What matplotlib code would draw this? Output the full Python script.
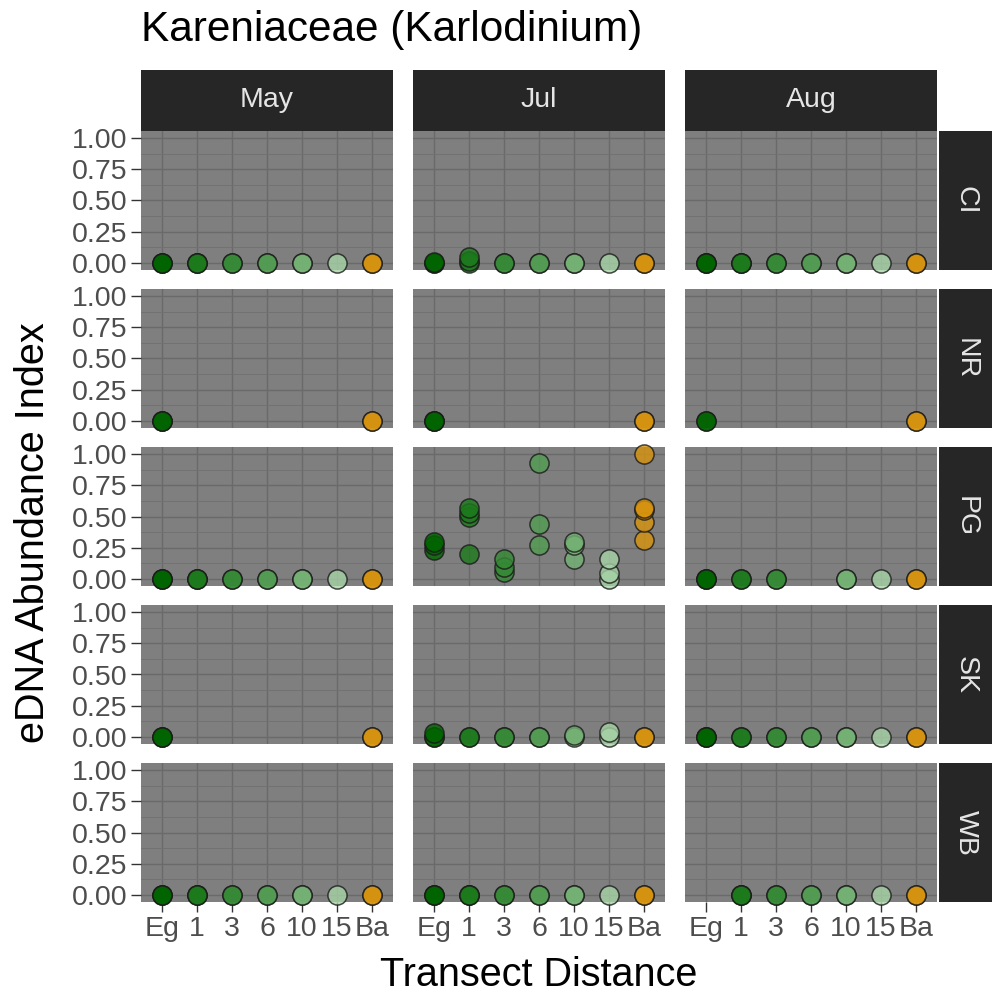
import matplotlib
matplotlib.use("Agg")
import matplotlib.pyplot as plt

plt.rcParams['font.family'] = ['Liberation Sans', 'DejaVu Sans']

# transect stations along x, sampling months across, sites down
distances = ["Eg", "1", "3", "6", "10", "15", "Ba"]
months = ["May", "Jul", "Aug"]
sites = ["CI", "NR", "PG", "SK", "WB"]
fills = ["#006400", "#1c7a1c", "#348a34", "#529c52", "#74b274", "#a6d2a6", "#d8940c"]

# replicate abundance values per station (Eg .. Ba)
ci_may = [[0, 0, 0], [0, 0, 0], [0, 0], [0, 0], [0, 0], [0], [0, 0]]
ci_jul = [[0, 0, 0.01], [0, 0.02, 0.05], [0, 0], [0, 0], [0, 0], [0], [0, 0]]
ci_aug = [[0, 0, 0], [0, 0, 0], [0, 0], [0, 0], [0, 0], [0], [0, 0]]
nr_may = [[0, 0, 0], [], [], [], [], [], [0, 0]]
nr_jul = [[0, 0, 0], [], [], [], [], [], [0, 0]]
nr_aug = [[0, 0], [], [], [], [], [], [0, 0]]
pg_may = [[0, 0, 0], [0, 0, 0], [0, 0], [0, 0], [0, 0], [0], [0, 0]]
pg_jul = [[0.23, 0.27, 0.30], [0.20, 0.50, 0.53, 0.57], [0.06, 0.10, 0.16],
          [0.27, 0.44, 0.93], [0.16, 0.27, 0.30], [0.0, 0.05, 0.16],
          [0.31, 0.46, 0.55, 0.57, 1.0]]
pg_aug = [[0, 0, 0], [0, 0], [0, 0], [], [0, 0], [0], [0, 0]]
sk_may = [[0, 0, 0], [], [], [], [], [], [0, 0]]
sk_jul = [[0, 0, 0.03], [0, 0], [0, 0], [0, 0], [0, 0.02], [0, 0.04], [0, 0]]
sk_aug = [[0, 0, 0], [0, 0], [0, 0], [0, 0], [0, 0], [0], [0, 0]]
wb_may = [[0, 0, 0], [0, 0, 0], [0, 0], [0, 0], [0, 0], [0], [0, 0]]
wb_jul = [[0, 0, 0], [0, 0, 0], [0, 0], [0, 0], [0, 0], [0], [0, 0]]
wb_aug = [[], [0, 0, 0], [0, 0], [0, 0], [0, 0], [0], [0, 0]]

panels = [
    [ci_may, ci_jul, ci_aug],
    [nr_may, nr_jul, nr_aug],
    [pg_may, pg_jul, pg_aug],
    [sk_may, sk_jul, sk_aug],
    [wb_may, wb_jul, wb_aug],
]

W, H = 992, 997
fig = plt.figure(figsize=(W / 100, H / 100), dpi=100)
fig.patch.set_facecolor("white")


def px_axes(x, y, w, h):
    # pixel box (top-left origin) -> figure axes
    return fig.add_axes([x / W, 1 - (y + h) / H, w / W, h / H])


col_x = [141, 413, 685]
row_y = [131, 289, 447, 605, 763]
pw, ph = 252, 139

for r, site in enumerate(sites):
    for c, month in enumerate(months):
        ax = px_axes(col_x[c], row_y[r], pw, ph)
        ax.set_facecolor("#7f7f7f")
        for s in ax.spines.values():
            s.set_visible(False)
        ax.set_xlim(-0.6, 6.6)
        ax.set_ylim(-0.055, 1.055)
        ax.set_yticks([0, 0.25, 0.5, 0.75, 1.0])
        ax.set_yticks([0.125, 0.375, 0.625, 0.875], minor=True)
        ax.set_xticks(range(len(distances)))
        ax.grid(True, which="major", color="#6a6a6a", lw=1.0)
        ax.grid(True, which="minor", axis="y", color="#707070", lw=0.6)
        ax.set_axisbelow(True)
        ax.tick_params(which="minor", length=0)
        ax.tick_params(which="major", length=7, width=1, color="#333333",
                       labelsize=20.5, labelcolor="#4d4d4d", pad=3)
        if c == 0:
            ax.set_yticklabels(["0.00", "0.25", "0.50", "0.75", "1.00"])
        else:
            ax.tick_params(axis="y", length=0, labelleft=False)
        if r == len(sites) - 1:
            ax.set_xticklabels(distances)
        else:
            ax.tick_params(axis="x", length=0, labelbottom=False)

        data = panels[r][c]
        for i, vals in enumerate(data):
            if vals:
                ax.scatter([i] * len(vals), vals, s=190, c=fills[i], alpha=0.8,
                           edgecolors="#1a1a1a", linewidths=1.1, zorder=3,
                           clip_on=False)

        # month strip on top row
        if r == 0:
            sax = px_axes(col_x[c], 70, pw, 61)
            sax.set_facecolor("#262626")
            sax.set_xticks([]); sax.set_yticks([])
            for s in sax.spines.values():
                s.set_visible(False)
            sax.text(0.5, 0.5, month, color="#e5e5e5", fontsize=20.5,
                     ha="center", va="center", transform=sax.transAxes)
        # site strip on right column
        if c == len(months) - 1:
            sax = px_axes(939, row_y[r], 53, ph)
            sax.set_facecolor("#262626")
            sax.set_xticks([]); sax.set_yticks([])
            for s in sax.spines.values():
                s.set_visible(False)
            sax.text(0.5, 0.5, site, color="#e5e5e5", fontsize=20.5,
                     ha="center", va="center", rotation=-90,
                     transform=sax.transAxes)

fig.text(141 / W, 1 - 30 / H, "Kareniaceae (Karlodinium)", fontsize=30.5,
         ha="left", va="center", color="black")
fig.text(539 / W, 1 - 975 / H, "Transect Distance", fontsize=28.5,
         ha="center", va="center", color="black")
fig.text(33 / W, 1 - 533 / H, "eDNA Abundance Index", fontsize=28.5,
         ha="center", va="center", rotation=90, color="black")

fig.savefig("out.png", dpi=100)
